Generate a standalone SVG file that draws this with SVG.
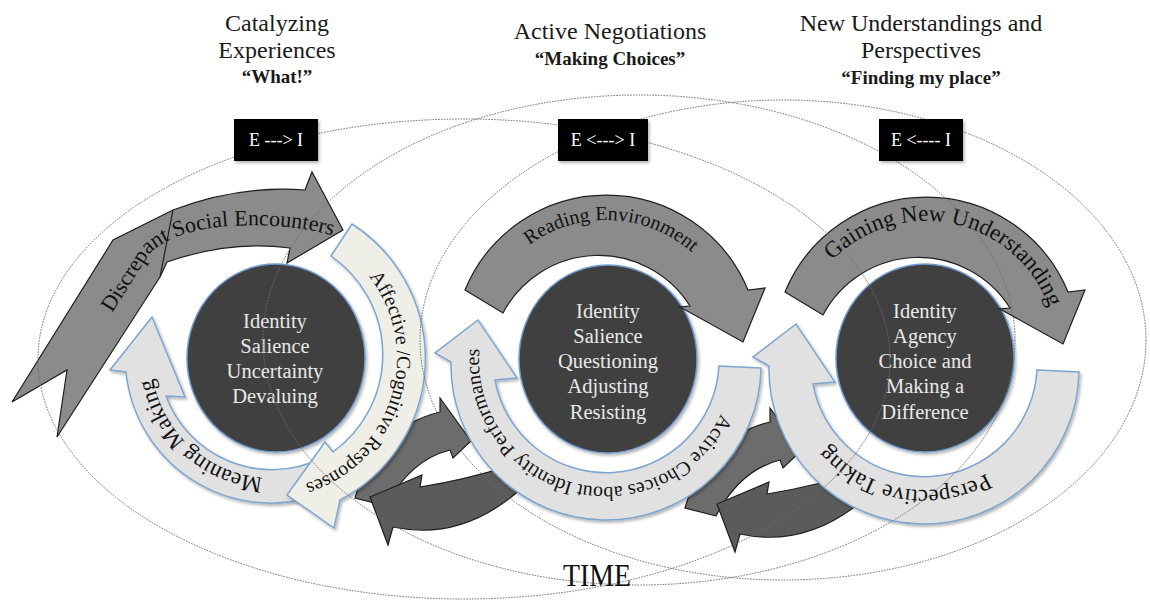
<svg xmlns="http://www.w3.org/2000/svg" width="1150" height="603" viewBox="0 0 1150 603">
  <defs>
    <filter id="soft" x="-10%" y="-10%" width="130%" height="130%">
      <feDropShadow dx="1.5" dy="2" stdDeviation="1.5" flood-color="#000" flood-opacity="0.3"/>
    </filter>
    <!-- shared shapes -->
    <path id="bandLower" d="M 719,366 L 761,368 A 155 155 0 0 1 451,362 L 435,353 L 478,320 L 517,378 L 495,380 A 113 113 0 0 0 719,366 Z"/>
    <path id="bandUpper" d="M 465,290 A 153 153 0 0 1 748,290 L 765,288 L 743,342 L 680,307 L 690,306 A 108 108 0 0 0 503,313 Z"/>
    <path id="swapUp" d="M 386,506 L 355,498 Q 375,428 440,412 L 440,398 L 471,441 L 453,458 L 450,450 Q 410,460 386,506 Z"/>
    <path id="swapDown" d="M 522,462 Q 470,479 420,487 L 422,475 L 370,497 L 388,545 L 393,527 Q 462,542 522,488 Z"/>
    <!-- label baselines -->
    <path id="tpDisc" d="M 60,395 L 150,253 Q 175,230 230,226 Q 300,222 352,242"/>
    <path id="tpAff" d="M 265,226 A 132 132 0 1 1 265,490 A 132 132 0 1 1 265,226"/>
    <path id="tpMean" d="M 272,236 A 121 121 0 1 1 272,478 A 121 121 0 1 1 272,236"/>
    <path id="tpRead" d="M 476,350 A 130 130 0 0 1 736,350"/>
    <path id="tpAct" d="M 733,360 A 127 127 0 1 1 479,360 A 127 127 0 1 1 733,360"/>
    <path id="tpGain" d="M 795,352 A 131 131 0 0 1 1057,352"/>
    <path id="tpPer" d="M 1050,364 A 126 126 0 1 1 798,364 A 126 126 0 1 1 1050,364"/>
  </defs>
  <style>
    text { font-family: "Liberation Serif", "Times New Roman", serif; }
    .hdr { font-size: 24px; fill: #1a1a1a; text-anchor: middle; }
    .sub { font-size: 19px; font-weight: bold; }
    .box { fill: #000; filter: url(#soft); }
    .boxt { font-size: 18px; fill: #fff; text-anchor: middle; }
    .core { fill: #404040; stroke: #6f9bd1; stroke-width: 1.5; filter: url(#soft); }
    .coret { font-size: 20.5px; fill: #e9e9e9; text-anchor: middle; }
    .dark { fill: #8b8b8b; stroke: #1e1e1e; stroke-width: 1.2; }
    .swapU { fill: #6c6c6c; stroke: #1e1e1e; stroke-width: 1.2; }
    .swapL { fill: #5b5b5b; stroke: #1e1e1e; stroke-width: 1.2; }
    .light { fill: #e1e1e1; stroke: #7ea5d0; stroke-width: 1.5; filter: url(#soft); }
    .cream { fill: #efefe8; stroke: #7ea5d0; stroke-width: 1.5; filter: url(#soft); }
    .lbl { fill: #111; }
    .orbit { fill: none; stroke: #6d6d6d; stroke-width: 1; stroke-dasharray: 1.6 1.2; }
  </style>

  <rect width="1150" height="603" fill="#fff"/>

  <!-- exchange arrows between the cycles -->
  <g id="connectors">
    <use href="#swapUp" class="swapU"/>
    <use href="#swapDown" class="swapL"/>
    <use href="#swapUp" class="swapU" transform="translate(330,10)"/>
    <use href="#swapDown" class="swapL" transform="translate(347,7)"/>
  </g>

  <!-- cycle 1 -->
  <g id="cycle-catalyzing">
    <path id="meaning-making" class="light" d="M 320,459 L 334,489 A 146 146 0 0 1 126,372 L 110,370 L 152,317 L 185,397 L 166,396 A 113 113 0 0 0 320,459 Z"/>
    <text class="lbl" font-size="23"><textPath href="#tpMean" startOffset="468.8" text-anchor="middle">Meaning Making</textPath></text>
    <path id="affective" class="cream" d="M 331,256 L 352,224 A 160 160 0 0 1 340,500 L 334,528 L 287,495 L 325,442 L 333,452 A 120 120 0 0 0 331,256 Z"/>
    <text class="lbl" font-size="20"><textPath href="#tpAff" startOffset="246.5" text-anchor="middle">Affective /Cognitive Responses</textPath></text>
    <ellipse class="core" cx="276" cy="358" rx="89" ry="94"/>
    <text class="coret" x="275" y="328">Identity</text>
    <text class="coret" x="275" y="353">Salience</text>
    <text class="coret" x="275" y="378">Uncertainty</text>
    <text class="coret" x="275" y="403">Devaluing</text>
    <path id="discrepant" class="dark" d="M 12,402 L 113,240 L 173,210 Q 240,185 305,190 L 312,172 L 343,230 L 287,263 L 290,248 Q 230,240 167,262 L 160,277 L 57,437 L 67,370 Z"/>
    <path d="M 173,210 L 160,277" fill="none" stroke="#1e1e1e" stroke-width="1.2"/>
    <text class="lbl" font-size="22"><textPath href="#tpDisc" startOffset="97">Discrepant Social Encounters</textPath></text>
  </g>

  <!-- cycle 2 -->
  <g id="cycle-negotiations">
    <use id="active-choices" href="#bandLower" class="light"/>
    <text class="lbl" font-size="20"><textPath href="#tpAct" startOffset="232.7" text-anchor="middle">Active Choices about Identity Performances</textPath></text>
    <ellipse class="core" cx="608" cy="359" rx="89" ry="94"/>
    <text class="coret" x="608" y="318">Identity</text>
    <text class="coret" x="608" y="343">Salience</text>
    <text class="coret" x="608" y="368">Questioning</text>
    <text class="coret" x="608" y="393">Adjusting</text>
    <text class="coret" x="608" y="419">Resisting</text>
    <use id="reading-environment" href="#bandUpper" class="dark"/>
    <text class="lbl" font-size="20"><textPath href="#tpRead" startOffset="209.9" text-anchor="middle">Reading Environment</textPath></text>
  </g>

  <!-- cycle 3 -->
  <g id="cycle-understandings">
    <use id="perspective-taking" href="#bandLower" class="light" transform="translate(318,4)"/>
    <text class="lbl" font-size="23"><textPath href="#tpPer" startOffset="219.9" text-anchor="middle">Perspective Taking</textPath></text>
    <ellipse class="core" cx="925" cy="358" rx="89" ry="94"/>
    <text class="coret" x="925" y="318">Identity</text>
    <text class="coret" x="925" y="343">Agency</text>
    <text class="coret" x="925" y="368">Choice and</text>
    <text class="coret" x="925" y="393">Making a</text>
    <text class="coret" x="925" y="419">Difference</text>
    <use id="gaining-understanding" href="#bandUpper" class="dark" transform="translate(320,2)"/>
    <text class="lbl" font-size="23"><textPath href="#tpGain" startOffset="233.6" text-anchor="middle">Gaining New Understanding</textPath></text>
  </g>

  <!-- overlapping phases over time -->
  <g id="orbits">
    <ellipse class="orbit" cx="464" cy="359" rx="426" ry="240"/>
    <ellipse class="orbit" cx="639" cy="340" rx="376" ry="245"/>
    <ellipse class="orbit" cx="783" cy="340" rx="363" ry="240"/>
  </g>

  <!-- phase headings -->
  <g id="phase-1">
    <text class="hdr" x="277" y="31">Catalyzing</text>
    <text class="hdr" x="277" y="58">Experiences</text>
    <text class="hdr sub" x="277" y="83">“What!”</text>
    <rect class="box" x="234" y="119" width="84" height="42"/>
    <text class="boxt" x="276" y="146">E ---&gt; I</text>
  </g>
  <g id="phase-2">
    <text class="hdr" x="610" y="39">Active Negotiations</text>
    <text class="hdr sub" x="610" y="65">“Making Choices”</text>
    <rect class="box" x="558" y="119" width="90" height="42"/>
    <text class="boxt" x="603" y="146">E &lt;---&gt; I</text>
  </g>
  <g id="phase-3">
    <text class="hdr" x="921" y="31">New Understandings and</text>
    <text class="hdr" x="921" y="58">Perspectives</text>
    <text class="hdr sub" x="921" y="84">“Finding my place”</text>
    <rect class="box" x="879" y="119" width="84" height="42"/>
    <text class="boxt" x="921" y="146">E &lt;---- I</text>
  </g>

  <text id="time" x="597" y="586" font-size="31" textLength="68" lengthAdjust="spacingAndGlyphs" text-anchor="middle" fill="#111">TIME</text>
</svg>
